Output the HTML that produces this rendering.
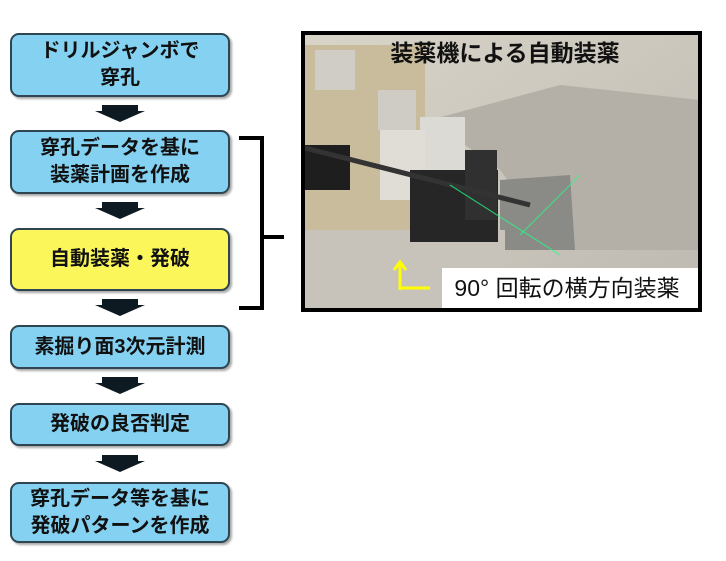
<!DOCTYPE html>
<html><head><meta charset="utf-8"><style>
body{margin:0;width:726px;height:561px;background:#fff;position:relative;overflow:hidden;font-family:"Liberation Sans","Noto Sans CJK JP",sans-serif;}
.b{position:absolute;left:10px;width:216px;background:#84d1f2;border:2px solid #2f4652;border-radius:9px;box-shadow:2px 2px 2px rgba(0,0,0,.35);display:flex;align-items:center;justify-content:center;text-align:center;font-weight:bold;font-size:20px;line-height:27px;color:#111;}
.y{background:#fbf75a;}
</style></head><body>
<div class="b" style="top:33px;height:60px">ドリルジャンボで<br>穿孔</div>
<div class="b" style="top:130px;height:60px">穿孔データを基に<br>装薬計画を作成</div>
<div class="b y" style="top:228px;height:59px">自動装薬・発破</div>
<div class="b" style="top:325px;height:40px">素掘り面3次元計測</div>
<div class="b" style="top:403px;height:39px">発破の良否判定</div>
<div class="b" style="top:482px;height:57px">穿孔データ等を基に<br>発破パターンを作成</div>
<svg width="726" height="561" style="position:absolute;left:0;top:0">
<g fill="#0d1a22">
<polygon points="102,105 138,105 138,111 145,111 120,122 95,111 102,111"/>
<polygon points="102,202 138,202 138,208 145,208 120,219 95,208 102,208"/>
<polygon points="102,299 138,299 138,305 145,305 120,316 95,305 102,305"/>
<polygon points="102,377 138,377 138,383 145,383 120,394 95,383 102,383"/>
<polygon points="102,455 138,455 138,461 145,461 120,472 95,461 102,461"/>
</g>
<path d="M239,138 H262 V237 H284 M262,237 V308 H239" fill="none" stroke="#000" stroke-width="4"/>
<defs>
<linearGradient id="rk" x1="0" y1="0" x2="1" y2="1"><stop offset="0" stop-color="#d9d4c8"/><stop offset="1" stop-color="#bdb9b1"/></linearGradient>
</defs>
<rect x="303" y="33" width="397" height="277" fill="url(#rk)"/>
<polygon points="430,120 560,85 700,100 700,250 560,250 500,170" fill="#b4b0a8"/>
<polygon points="500,180 570,175 575,250 500,250" fill="#8a8a86"/>
<rect x="305" y="45" width="120" height="185" fill="#c9bc9c"/>
<rect x="305" y="230" width="200" height="78" fill="#c7c3bb"/>
<rect x="305" y="145" width="45" height="45" fill="#1e1e1e"/>
<rect x="315" y="50" width="40" height="40" fill="#d0cdc6"/>
<rect x="378" y="90" width="38" height="40" fill="#cfccc5"/>
<rect x="420" y="117" width="45" height="65" fill="#dcdad4"/>
<rect x="380" y="130" width="45" height="70" fill="#e0ddd6"/>
<rect x="410" y="170" width="88" height="72" fill="#262626"/>
<rect x="465" y="150" width="32" height="70" fill="#303030"/>
<line x1="305" y1="148" x2="530" y2="205" stroke="#333" stroke-width="5"/>
<line x1="450" y1="185" x2="560" y2="255" stroke="#2f8" stroke-width="1.2" opacity=".7"/>
<line x1="520" y1="235" x2="580" y2="175" stroke="#2f8" stroke-width="1.2" opacity=".7"/>
<polyline points="400,290 400,263" fill="none" stroke="#ff0" stroke-width="3"/>
<polyline points="394,270 400,262 406,270" fill="none" stroke="#ff0" stroke-width="3"/>
<line x1="400" y1="288" x2="430" y2="288" stroke="#ff0" stroke-width="3"/>
<rect x="442" y="268" width="256" height="40" fill="#fff"/>
<rect x="303" y="33" width="397" height="277" fill="none" stroke="#000" stroke-width="4"/>
<text x="505" y="61" text-anchor="middle" font-size="23" font-weight="bold" fill="#111" font-family="Liberation Sans,Noto Sans CJK JP,sans-serif">装薬機による自動装薬</text>
<text x="567" y="296" text-anchor="middle" font-size="23" fill="#111" font-family="Liberation Sans,Noto Sans CJK JP,sans-serif">90°  回転の横方向装薬</text>
</svg>
</body></html>
